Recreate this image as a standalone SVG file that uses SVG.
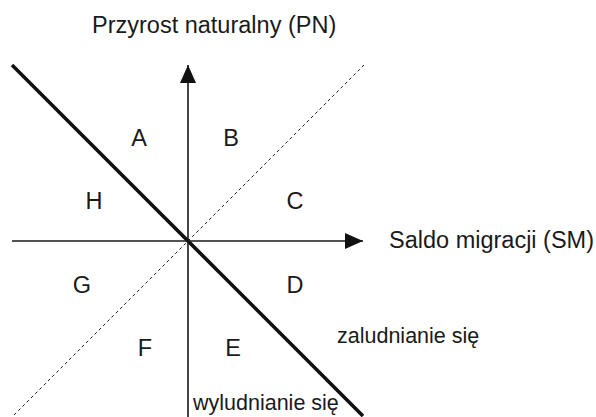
<svg xmlns="http://www.w3.org/2000/svg" width="596" height="417" viewBox="0 0 596 417">
<style>
text{font-family:"Liberation Sans",Arial,sans-serif;font-size:23.5px;fill:#1a1a1a}
.q{text-anchor:middle}
.s{font-size:21.5px}
.axis{stroke:#1a1a1a;stroke-width:1.6;fill:none}
.thick{stroke:#111;stroke-width:3.6;fill:none}
.dash{stroke:#1a1a1a;stroke-width:1;stroke-dasharray:3,3;fill:none}
</style>
<defs>
<marker id="ah" markerUnits="userSpaceOnUse" markerWidth="18" markerHeight="16" refX="18" refY="8" orient="auto">
<path d="M0,0 L18,8 L0,16 Z" fill="#111"/>
</marker>
</defs>
<g id="connectors">
<line class="dash" x1="14" y1="415" x2="364" y2="65"/>
<line class="thick" x1="12" y1="65" x2="363" y2="416"/>
<line class="axis" x1="188" y1="417" x2="188" y2="65" marker-end="url(#ah)"/>
<line class="axis" x1="12" y1="241" x2="363" y2="241" marker-end="url(#ah)"/>
</g>
<g id="axis-pn"><text x="92" y="33">Przyrost naturalny (PN)</text></g>
<g id="axis-sm"><text x="389" y="248">Saldo migracji (SM)</text></g>
<g id="A"><text class="q" x="139" y="146">A</text></g>
<g id="B"><text class="q" x="231" y="146">B</text></g>
<g id="H"><text class="q" x="94" y="209">H</text></g>
<g id="C"><text class="q" x="295" y="209">C</text></g>
<g id="G"><text class="q" x="82" y="293">G</text></g>
<g id="D"><text class="q" x="295" y="293">D</text></g>
<g id="F"><text class="q" x="145" y="356">F</text></g>
<g id="E"><text class="q" x="233" y="356">E</text></g>
<g id="zaludnianie"><text class="s" x="337" y="343">zaludnianie się</text></g>
<g id="wyludnianie"><text class="s" x="193" y="410">wyludnianie się</text></g>
</svg>
